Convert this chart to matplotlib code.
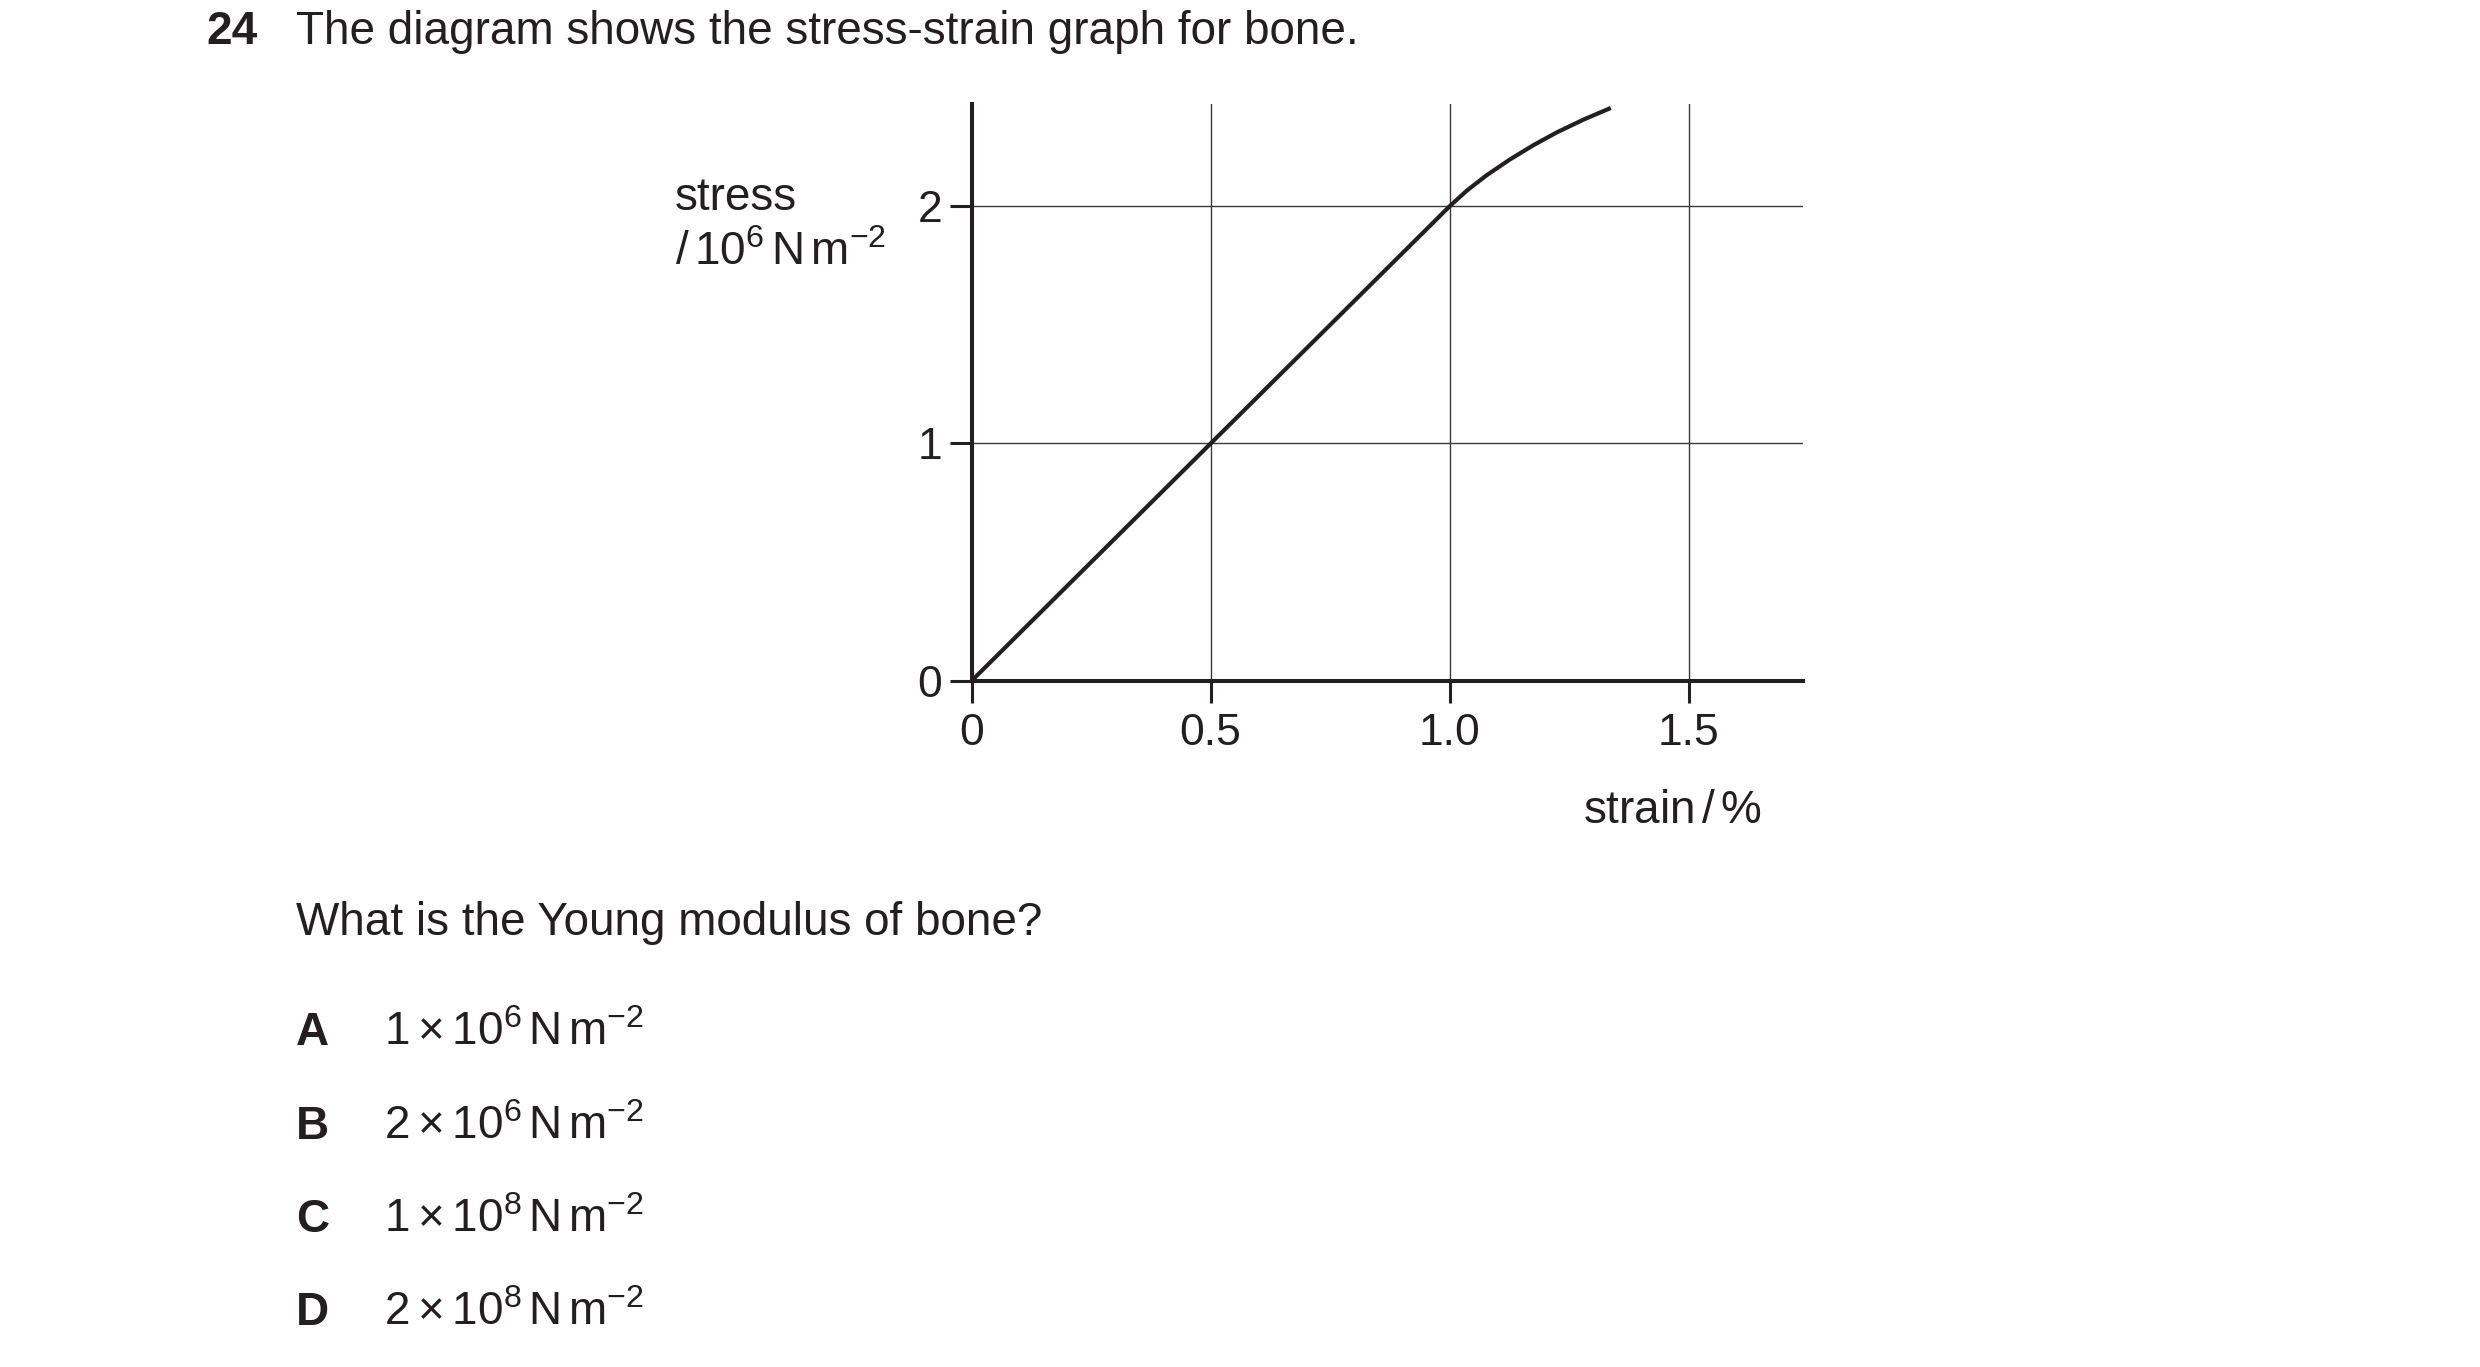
import matplotlib
matplotlib.use('Agg')
import matplotlib.pyplot as plt

plt.rcParams['font.family'] = ['Liberation Sans', 'DejaVu Sans']
plt.rcParams['mathtext.fontset'] = 'custom'
plt.rcParams['mathtext.rm'] = 'Liberation Sans'
plt.rcParams['mathtext.it'] = 'Liberation Sans:italic'
plt.rcParams['mathtext.bf'] = 'Liberation Sans:bold'
plt.rcParams['mathtext.default'] = 'regular'

ink = '#231f20'

# stress-strain curve
strain = [0.0, 0.5, 1.0, 1.036, 1.077, 1.126, 1.175, 1.224, 1.280, 1.337]
stress = [0.0, 1.0, 2.0, 2.066, 2.130, 2.197, 2.257, 2.311, 2.365, 2.414]

x_ticks = [0, 0.5, 1.0, 1.5]
x_tick_labels = ['0', '0.5', '1.0', '1.5']
y_ticks = [0, 1, 2]
y_tick_labels = ['0', '1', '2']

question_no = '24'
title = 'The diagram shows the stress-strain graph for bone.'
question = 'What is the Young modulus of bone?'
option_letters = ['A', 'B', 'C', 'D']
option_texts = [r'$1 \times 10^{6}\,N\,m^{-2}$',
                r'$2 \times 10^{6}\,N\,m^{-2}$',
                r'$1 \times 10^{8}\,N\,m^{-2}$',
                r'$2 \times 10^{8}\,N\,m^{-2}$']

W, H = 2480, 1367
fig = plt.figure(figsize=(W / 100, H / 100), dpi=100)


def px(x, y):
    # full-size pixel position -> figure fraction
    return x / W, 1 - y / H


ax = fig.add_axes([0.3918, 0.502, 0.3352, 0.4218])
ax.plot(strain, stress, color=ink, lw=3.0, solid_capstyle='butt')
ax.set_xlim(0, 1.739)
ax.set_ylim(0, 2.43)
ax.set_xticks(x_ticks)
ax.set_xticklabels(x_tick_labels)
ax.set_yticks(y_ticks)
ax.set_yticklabels(y_tick_labels)
ax.grid(True, color='#3a3a3a', lw=1.0)
ax.set_axisbelow(True)
for s in ['top', 'right']:
    ax.spines[s].set_visible(False)
for s in ['left', 'bottom']:
    ax.spines[s].set_linewidth(2.9)
    ax.spines[s].set_color(ink)
ax.tick_params(axis='x', direction='out', length=16, width=2.2, color=ink,
               labelsize=32, labelcolor=ink, pad=7)
ax.tick_params(axis='y', direction='out', length=16, width=2.2, color=ink,
               labelsize=32, labelcolor=ink, pad=5)

# axis labels placed as free text, like the printed paper
fig.text(*px(675, 210), 'stress', fontsize=33, color=ink, va='baseline')
fig.text(*px(675, 265), r'$/\,10^{6}\,N\,m^{-2}$', fontsize=33, color=ink, va='baseline')
fig.text(*px(1583, 823), r'strain$\,/\,\%$', fontsize=33, color=ink, va='baseline')

# question text
fig.text(*px(206, 44), question_no, fontsize=33, fontweight='bold', color=ink, va='baseline')
fig.text(*px(296, 44), title, fontsize=33, color=ink, va='baseline')
fig.text(*px(296, 935), question, fontsize=33, color=ink, va='baseline')

baselines = [1045, 1139, 1232, 1325]
for letter, txt, yb in zip(option_letters, option_texts, baselines):
    fig.text(*px(296, yb), letter, fontsize=33, fontweight='bold', color=ink, va='baseline')
    fig.text(*px(384, yb), txt, fontsize=33, color=ink, va='baseline')

fig.savefig('out.png', dpi=100, facecolor='white')
